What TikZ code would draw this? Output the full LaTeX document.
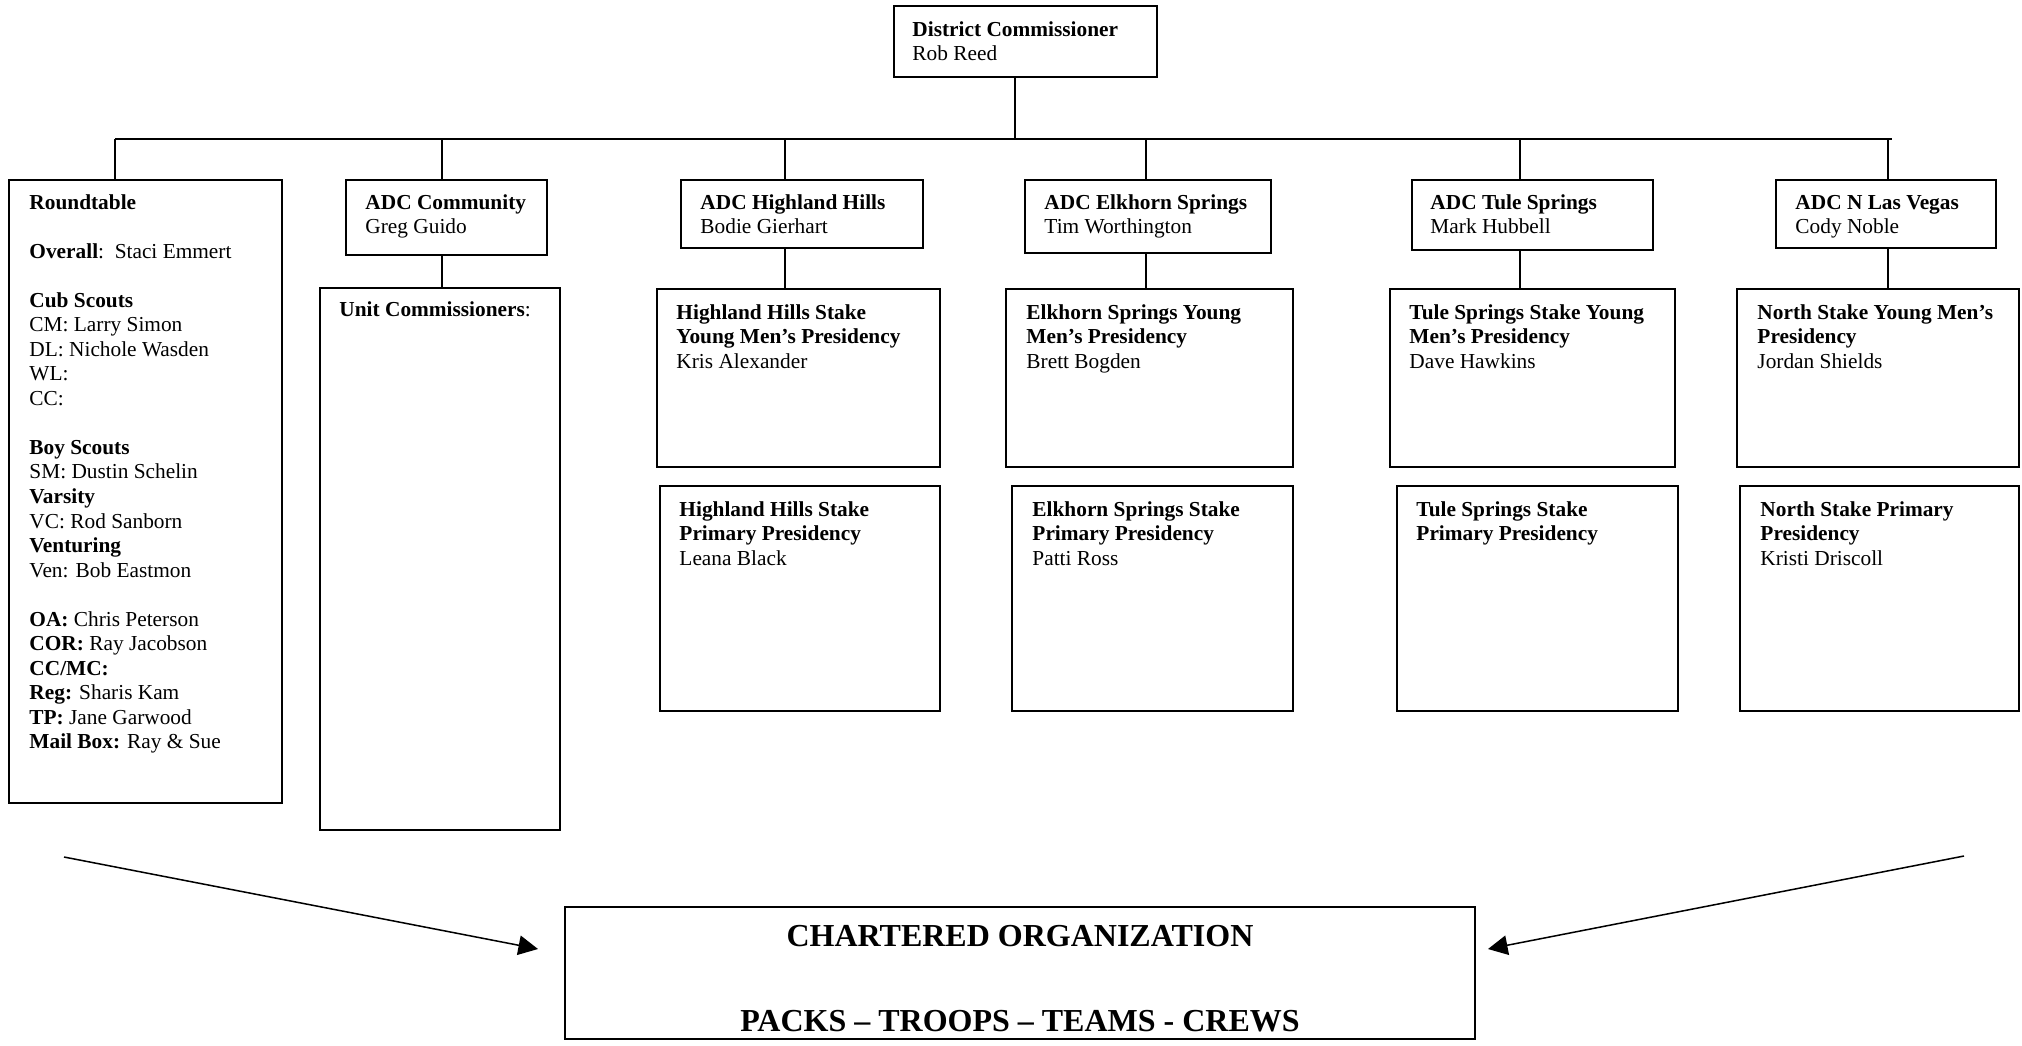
\documentclass[tikz,border=0pt]{standalone}
\usepackage{fontspec}
\setmainfont{Liberation Serif}
\usetikzlibrary{arrows.meta,calc,fit}
\newcommand\txtlines[1]{\begin{tabular}[t]{@{}l@{}}#1\end{tabular}}
\tikzset{
  box/.style={draw, line width=1pt, inner sep=0pt},
  conn/.style={line width=0.85pt},
  txt/.style={anchor=base west, inner sep=0pt, font=\fontsize{12}{13.8}\selectfont},
  big/.style={anchor=base, inner sep=0pt, font=\fontsize{18}{21}\selectfont\bfseries},
  arr/.style={line width=0.85pt, -{Triangle[length=11pt,width=11pt]}}
}
\begin{document}
\begin{tikzpicture}[x=0.5625pt,y=-0.5625pt]
\useasboundingbox (0,0) rectangle (2022,1045);

% boxes
\node[box, fit={(894,6)(1157,77)}] (dc) {};
\node[box, fit={(9,180)(282,803)}] (rt) {};
\node[box, fit={(346,180)(547,255)}] (adcC) {};
\node[box, fit={(681,180)(923,248)}] (adcH) {};
\node[box, fit={(1025,180)(1271,253)}] (adcE) {};
\node[box, fit={(1412,180)(1653,250)}] (adcT) {};
\node[box, fit={(1776,180)(1996,248)}] (adcN) {};
\node[box, fit={(320,288)(560,830)}] (uc) {};
\node[box, fit={(657,289)(940,467)}] (hym) {};
\node[box, fit={(1006,289)(1293,467)}] (eym) {};
\node[box, fit={(1390,289)(1675,467)}] (tym) {};
\node[box, fit={(1737,289)(2019,467)}] (nym) {};
\node[box, fit={(660,486)(940,711)}] (hp) {};
\node[box, fit={(1012,486)(1293,711)}] (ep) {};
\node[box, fit={(1397,486)(1678,711)}] (tp) {};
\node[box, fit={(1740,486)(2019,711)}] (np) {};
\node[box, fit={(565,907)(1475,1039)}] (co) {};

% texts
\node[txt] (dct) at ($(dc.north west)+(19,31)$) {\txtlines{\textbf{District Commissioner}\\Rob Reed}};
\node[txt] (rtt) at ($(rt.north west)+(21,30)$) {\txtlines{\textbf{Roundtable}\\
\\
\textbf{Overall}:\ \ Staci Emmert\\
\\
\textbf{Cub Scouts}\\
CM: Larry Simon\\
DL: Nichole Wasden\\
WL:\\
CC:\\
\\
\textbf{Boy Scouts}\\
SM: Dustin Schelin\\
\textbf{Varsity}\\
VC: Rod Sanborn\\
\textbf{Venturing}\\
Ven: Bob Eastmon\\
\\
\textbf{OA:} Chris Peterson\\
\textbf{COR:} Ray Jacobson\\
\textbf{CC/MC:}\\
\textbf{Reg:} Sharis Kam\\
\textbf{TP:} Jane Garwood\\
\textbf{Mail Box:} Ray \& Sue}};
\node[txt] (adcCt) at ($(adcC.north west)+(20,30)$) {\txtlines{\textbf{ADC Community}\\Greg Guido}};
\node[txt] (adcHt) at ($(adcH.north west)+(20,30)$) {\txtlines{\textbf{ADC Highland Hills}\\Bodie Gierhart}};
\node[txt] (adcEt) at ($(adcE.north west)+(20,30)$) {\txtlines{\textbf{ADC Elkhorn Springs}\\Tim Worthington}};
\node[txt] (adcTt) at ($(adcT.north west)+(19,30)$) {\txtlines{\textbf{ADC Tule Springs}\\Mark Hubbell}};
\node[txt] (adcNt) at ($(adcN.north west)+(20,30)$) {\txtlines{\textbf{ADC N Las Vegas}\\Cody Noble}};
\node[txt] (uct) at ($(uc.north west)+(20,29)$) {\textbf{Unit Commissioners}:};
\node[txt] (hymt) at ($(hym.north west)+(20,31)$) {\txtlines{\textbf{Highland Hills Stake}\\\textbf{Young Men’s Presidency}\\Kris Alexander}};
\node[txt] (eymt) at ($(eym.north west)+(21,31)$) {\txtlines{\textbf{Elkhorn Springs Young}\\\textbf{Men’s Presidency}\\Brett Bogden}};
\node[txt] (tymt) at ($(tym.north west)+(20,31)$) {\txtlines{\textbf{Tule Springs Stake Young}\\\textbf{Men’s Presidency}\\Dave Hawkins}};
\node[txt] (nymt) at ($(nym.north west)+(21,31)$) {\txtlines{\textbf{North Stake Young Men’s}\\\textbf{Presidency}\\Jordan Shields}};
\node[txt] (hpt) at ($(hp.north west)+(20,31)$) {\txtlines{\textbf{Highland Hills Stake}\\\textbf{Primary Presidency}\\Leana Black}};
\node[txt] (ept) at ($(ep.north west)+(21,31)$) {\txtlines{\textbf{Elkhorn Springs Stake}\\\textbf{Primary Presidency}\\Patti Ross}};
\node[txt] (tpt) at ($(tp.north west)+(20,31)$) {\txtlines{\textbf{Tule Springs Stake}\\\textbf{Primary Presidency}}};
\node[txt] (npt) at ($(np.north west)+(21,31)$) {\txtlines{\textbf{North Stake Primary}\\\textbf{Presidency}\\Kristi Driscoll}};
\node[big] (cot1) at ($(co.north)+(0,40)$) {CHARTERED ORGANIZATION};
\node[big] (cot2) at ($(co.north)+(0,125)$) {PACKS – TROOPS – TEAMS - CREWS};

% connectors
\coordinate (barL) at (115,139);
\coordinate (barR) at (1892,139);
\coordinate (jDC) at (1015,139);
\coordinate (jC) at (442,139);
\coordinate (jH) at (785,139);
\coordinate (jE) at (1146,139);
\coordinate (jT) at (1520,139);
\coordinate (jN) at (1888,139);
\draw[conn] (barL) -- (barR);
\draw[conn] (dc.south -| jDC) -- (jDC);
\draw[conn] (barL) -- (barL |- rt.north);
\draw[conn] (jC) -- (jC |- adcC.north);
\draw[conn] (jH) -- (jH |- adcH.north);
\draw[conn] (jE) -- (jE |- adcE.north);
\draw[conn] (jT) -- (jT |- adcT.north);
\draw[conn] (jN) -- (jN |- adcN.north);
\draw[conn] (adcC.south -| jC) -- (jC |- uc.north);
\draw[conn] (adcH.south -| jH) -- (jH |- hym.north);
\draw[conn] (adcE.south -| jE) -- (jE |- eym.north);
\draw[conn] (adcT.south -| jT) -- (jT |- tym.north);
\draw[conn] (adcN.south -| jN) -- (jN |- nym.north);

\coordinate (la) at (64,857);
\coordinate (lt) at (538,949);
\coordinate (ra) at (1964,856);
\coordinate (rtip) at (1488,949);
\draw[arr] (la) -- (lt);
\draw[arr] (ra) -- (rtip);
\end{tikzpicture}
\end{document}
